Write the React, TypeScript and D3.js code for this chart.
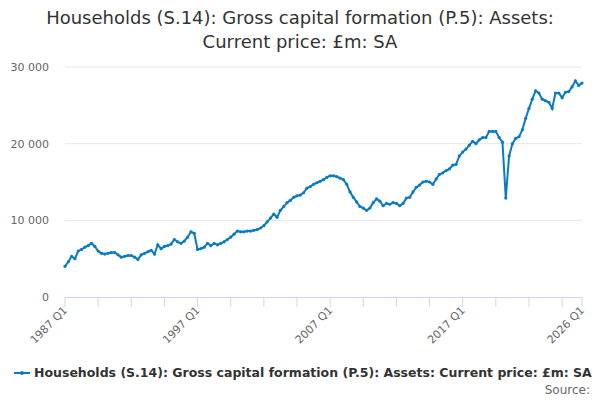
import { useEffect, useRef } from 'react';
import * as d3 from 'd3';

const START_YEAR = 1987;
const VALUES = [
  4000, 4600, 5300, 5000, 6000, 6200, 6500, 6700, 7000, 6600, 6000, 5700, 5600, 5700, 5800, 5800,
  5500, 5200, 5300, 5400, 5400, 5200, 4900, 5500, 5700, 5900, 6100, 5600, 6800, 6300, 6600, 6700,
  6900, 7500, 7200, 7000, 7300, 7800, 8500, 8300, 6200, 6300, 6500, 7000, 6700, 7000, 6800, 7000,
  7200, 7500, 7800, 8200, 8600, 8500, 8500, 8600, 8600, 8700, 8800, 9000, 9300, 9800, 10300, 10800,
  10400, 11300, 11800, 12300, 12600, 13000, 13200,
  13300, 13600, 14200, 14400, 14700, 14900, 15100, 15300, 15600, 15800, 15800, 15700, 15500,
  15300, 14700, 13700, 13000, 12400, 11800, 11600, 11300, 11600, 12300, 12800, 12500, 11900, 12200,
  12100, 12300, 12200, 11900, 12200, 12900, 13000, 13700, 14300, 14600, 15000, 15100, 15000, 14700,
  15400, 16000, 16200, 16500, 16700, 17200, 17300, 18400, 18900, 19300, 19800, 20300, 20000, 20500,
  20800, 20800, 21600, 21600, 21600, 20800, 20200, 12900, 18400, 20000, 20700, 20900, 21800, 23300,
  24600, 25800, 26900, 26600, 25800, 25600, 25400, 24600, 26600, 26600, 26000, 26700, 26800, 27400,
  28200, 27600, 27900,
];
const Y_TICKS = [0, 10000, 20000, 30000];
const LABEL_EVERY = 40;
const MINOR_EVERY = 10;
const TITLE = ['Households (S.14): Gross capital formation (P.5): Assets:', 'Current price: £m: SA'];
const SERIES_NAME = 'Households (S.14): Gross capital formation (P.5): Assets: Current price: £m: SA';

const quarterLabel = (i: number) => `${START_YEAR + Math.floor(i / 4)} Q${(i % 4) + 1}`;

export default function App() {
  const ref = useRef<SVGSVGElement>(null);

  useEffect(() => {
    if (!ref.current) return;
    const svg = d3.select(ref.current);
    svg.selectAll('*').remove();
    const font = '"DejaVu Sans", sans-serif';
    const color = '#0b7bc1';
    const x = d3.scaleLinear().domain([0, VALUES.length - 1]).range([65, 582]);
    const y = d3.scaleLinear().domain([0, 30000]).range([297, 67]);

    TITLE.forEach((t, i) =>
      svg.append('text').attr('x', 300).attr('y', 24 + i * 24).attr('text-anchor', 'middle')
        .attr('font-family', font).attr('font-size', 18).attr('fill', '#333').text(t));

    const fmt = (v: number) => d3.format(',')(v).replace(/,/g, ' ');
    Y_TICKS.forEach(v => {
      if (v > 0) svg.append('line').attr('x1', 65).attr('x2', 582).attr('y1', y(v)).attr('y2', y(v))
        .attr('stroke', '#e6e6e6');
      svg.append('text').attr('x', 49).attr('y', y(v) + 4).attr('text-anchor', 'end')
        .attr('font-family', font).attr('font-size', 11).attr('fill', '#666').text(fmt(v));
    });

    svg.append('line').attr('x1', 65).attr('x2', 582).attr('y1', 297.5).attr('y2', 297.5).attr('stroke', '#ccd6eb');
    const ticks = d3.range(0, VALUES.length, MINOR_EVERY).concat([VALUES.length - 1]);
    ticks.forEach(i => svg.append('line').attr('x1', x(i)).attr('x2', x(i)).attr('y1', 297).attr('y2', 307)
      .attr('stroke', '#ccd6eb'));
    const labels = d3.range(0, VALUES.length, LABEL_EVERY).concat([VALUES.length - 1]);
    labels.forEach(i => svg.append('text')
      .attr('transform', `translate(${x(i) + 3},${311}) rotate(-45)`).attr('text-anchor', 'end')
      .attr('font-family', font).attr('font-size', 11).attr('fill', '#666').text(quarterLabel(i)));

    const line = d3.line<number>().x((_, i) => x(i)).y(d => y(d));
    svg.append('path').datum(VALUES).attr('d', line).attr('fill', 'none').attr('stroke', color).attr('stroke-width', 2);
    svg.append('g').selectAll('circle').data(VALUES).join('circle')
      .attr('cx', (_, i) => x(i)).attr('cy', d => y(d)).attr('r', 1.6).attr('fill', color);

    svg.append('line').attr('x1', 14).attr('x2', 30).attr('y1', 373).attr('y2', 373).attr('stroke', color).attr('stroke-width', 2);
    svg.append('circle').attr('cx', 22).attr('cy', 373).attr('r', 2).attr('fill', color);
    svg.append('text').attr('x', 34).attr('y', 377).attr('font-family', font).attr('font-size', 12.5)
      .attr('font-weight', 'bold').attr('fill', '#333').text(SERIES_NAME);
    svg.append('text').attr('x', 590).attr('y', 394).attr('text-anchor', 'end').attr('font-family', font)
      .attr('font-size', 12).attr('fill', '#666').text('Source:');
  }, []);

  return <svg ref={ref} width={600} height={400} style={{ position: 'absolute', left: 0, top: 0 }} />;
}
